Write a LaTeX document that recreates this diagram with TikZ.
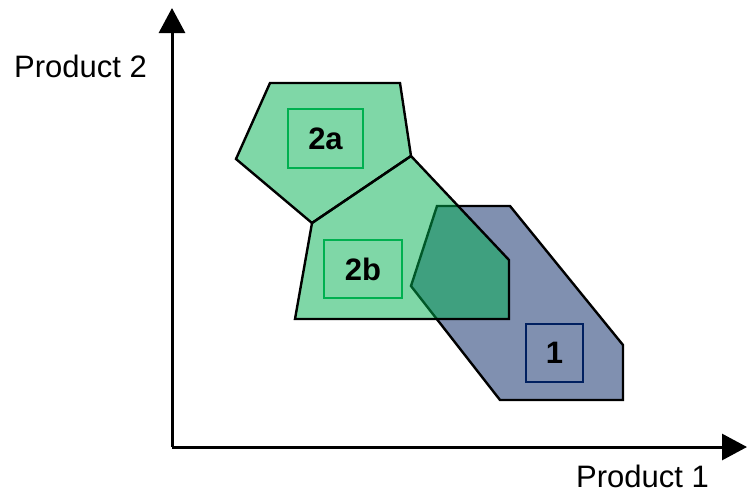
\documentclass[tikz,border=0pt]{standalone}
\usepackage{fontspec}
\setmainfont{Liberation Sans}
\usetikzlibrary{arrows.meta, positioning}
\definecolor{regiongreen}{RGB}{0,176,80}
\definecolor{regionblue}{RGB}{128,144,176}
\definecolor{boxblue}{RGB}{0,32,96}

\begin{document}
\begin{tikzpicture}[
        x=1pt, y=-1pt,
        region/.style={draw=black, line width=2.4pt},
        label box/.style={draw, line width=1.4pt, font=\bfseries\fontsize{31}{33}\selectfont, inner sep=0pt},
        axis label/.style={font=\fontsize{31}{33}\selectfont, inner sep=0pt, text depth=0pt, anchor=base west},
        >={Triangle[length=25pt, width=26pt]} % arrowhead style
      ]
      \useasboundingbox (0,0) rectangle (747,493);

      % Regions
      \fill[regionblue] (437,206) -- (510,206) -- (623,345) -- (623,400) -- (500,400) -- (411,286) -- cycle;
      \draw[region] (437,206) -- (510,206) -- (623,345) -- (623,400) -- (500,400) -- (411,286) -- cycle;
      \draw[region, fill=regiongreen, fill opacity=0.5] (270,83) -- (400,83) -- (411,156) -- (312,223) -- (236,159) -- cycle;
      \draw[region, fill=regiongreen, fill opacity=0.5] (411,156) -- (509,260) -- (509,319) -- (295,319) -- (312,223) -- cycle;

      % Nodes
      \node (r2a) [label box, draw=regiongreen, minimum width=75pt, minimum height=59pt] at (325.5,138.5) {2a};
      \node (r2b) [label box, draw=regiongreen, minimum width=78pt, minimum height=58pt] at (363,269) {2b};
      \node (r1) [label box, draw=boxblue, minimum width=57pt, minimum height=58pt] at (554.5,353) {1};

      \coordinate (origin) at (172,447);
      \coordinate (ytip) at (172,8);
      \coordinate (xtip) at (747,447);
      \node (ylab) [axis label] at (14,77) {Product 2};
      \node (xlab) [axis label] at (576,487) {Product 1};

      % Arrows
      \draw[->, line width=3pt] (origin) -- (ytip);
      \draw[->, line width=3pt] (origin) -- (xtip);

    \end{tikzpicture}
\end{document}
